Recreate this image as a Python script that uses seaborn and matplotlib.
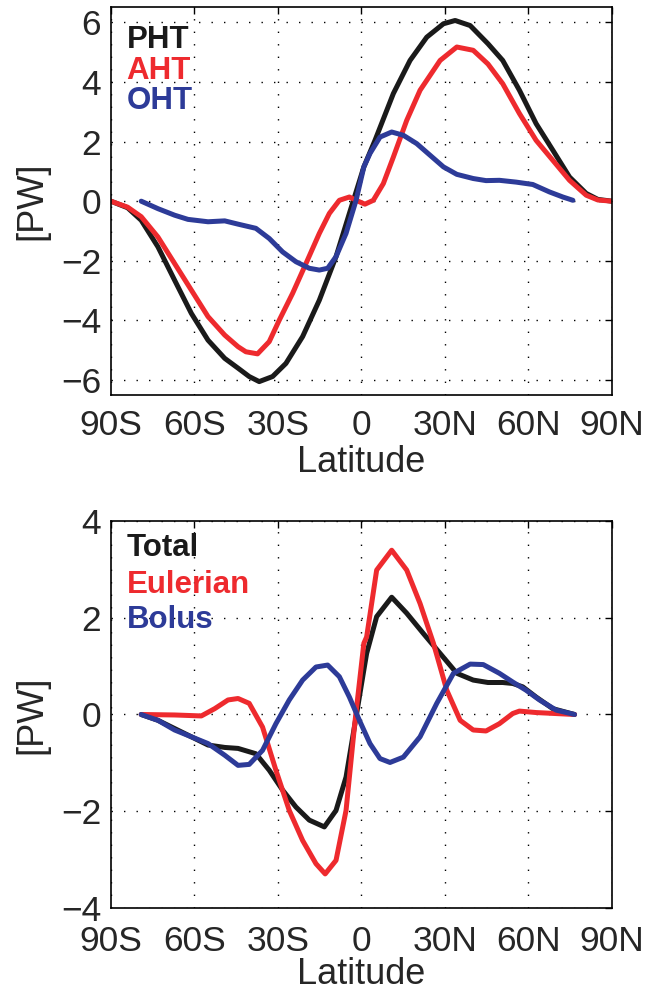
import numpy as np
import pandas as pd
import matplotlib
matplotlib.use("Agg")
import matplotlib.pyplot as plt
import seaborn as sns

# Top panel: total, atmospheric and oceanic heat transport [PW]
pht_lat = [-90, -84, -79.1, -73.1, -67.1, -61.1, -55.1, -49.1, -44.3, -40.3, -36.7, -31.9, -27.1,
           -21.1, -15.1, -9.1, -4.3, 0.9, 4.9, 11.5, 17.5, 23.5, 29.5, 33.7, 39.1, 45.5, 50.8,
           56.8, 62.8, 68.8, 74.8, 80.8, 85, 90]
pht_val = [0, -0.22, -0.64, -1.53, -2.65, -3.76, -4.66, -5.27, -5.6, -5.88, -6.05, -5.88, -5.44,
           -4.54, -3.32, -1.86, -0.41, 1.15, 2.04, 3.61, 4.72, 5.5, 5.95, 6.06, 5.89, 5.28, 4.72,
           3.72, 2.6, 1.71, 0.81, 0.26, 0.06, 0]

aht_lat = [-90, -84, -79.1, -73.1, -67.1, -61.1, -55.1, -49.1, -44.3, -41.5, -37.3, -33.1, -29.5,
           -24.7, -19.9, -15.1, -11.5, -7.9, -4.3, -0.7, 1.3, 4.3, 7.9, 11.5, 16.3, 21.1, 28.3,
           34.3, 40.2, 45.5, 50.8, 56.8, 62.8, 68.8, 74.8, 80.8, 85, 90]
aht_val = [0, -0.2, -0.52, -1.2, -2.09, -2.98, -3.87, -4.49, -4.88, -5.05, -5.12, -4.71, -3.99,
           -3.09, -2.09, -1.08, -0.41, 0.03, 0.14, -0.02, -0.1, 0.03, 0.59, 1.48, 2.71, 3.72, 4.72,
           5.17, 5.06, 4.6, 3.94, 2.94, 2.04, 1.37, 0.7, 0.2, 0.04, 0]

oht_lat = [-79.1, -73.1, -67.1, -62.3, -55.1, -49.1, -44.3, -37.9, -33.1, -28.3, -23.5, -18.7,
           -15.1, -12.1, -9.1, -5.5, -1.9, 0.9, 3.1, 6.7, 10.9, 15.1, 19.9, 24.7, 29.5, 34.3,
           40.2, 44.8, 49.6, 55.6, 61.6, 67.6, 72.4, 76]
oht_val = [0, -0.25, -0.47, -0.61, -0.69, -0.66, -0.77, -0.91, -1.25, -1.7, -2.03, -2.25,
           -2.31, -2.25, -1.86, -1.08, 0.03, 1.15, 1.6, 2.15, 2.32, 2.21, 1.93, 1.54, 1.15, 0.9,
           0.76, 0.69, 0.7, 0.64, 0.56, 0.31, 0.14, 0.03]

# Bottom panel: ocean heat transport decomposition [PW]
tot_lat = [-79.1, -73.1, -67.1, -61.1, -55.1, -49.1, -44.3, -37.9, -33.1, -28.3, -23.5, -18.7,
           -13.3, -9.1, -5.5, -2.5, 0.9, 1.9, 5.5, 10.9, 16.3, 22.3, 28.3, 34.3, 40.2, 45.5,
           50.8, 54.4, 58, 62.8, 68.8, 76.6]
tot_val = [0, -0.12, -0.29, -0.46, -0.63, -0.68, -0.7, -0.81, -1.15, -1.56, -1.91, -2.18,
           -2.32, -1.98, -1.29, -0.26, 0.92, 1.26, 2.02, 2.42, 2.09, 1.67, 1.26, 0.85, 0.71, 0.66,
           0.66, 0.64, 0.57, 0.36, 0.12, 0]

eul_lat = [-79.1, -67.1, -57.5, -52.7, -47.9, -44.3, -40.3, -35.5, -30.7, -25.9, -21.1, -16.3,
           -13, -9.1, -5.5, -2.5, 0.9, 1.9, 5.5, 10.9, 16.3, 21.1, 25.9, 30.7, 35.5, 40.2, 44.8,
           49.6, 54.4, 56.8, 62.8, 76.6]
eul_val = [0, -0.01, -0.03, 0.12, 0.3, 0.33, 0.23, -0.26, -1.15, -1.98, -2.6, -3.08,
           -3.29, -3.01, -1.98, -0.26, 1.47, 1.6, 2.98, 3.39, 2.98, 2.29, 1.47, 0.5, -0.12, -0.32,
           -0.34, -0.19, 0.02, 0.07, 0.04, 0]

bol_lat = [-79.1, -73.1, -67.1, -61.1, -55.1, -49.1, -44.3, -40.3, -35.5, -30.7, -25.9, -21.1,
           -16.3, -12.1, -7.9, -4.3, -0.7, 3.1, 6.7, 10.3, 15.1, 21.1, 27.1, 33.1, 39.1, 43.8,
           49.6, 54.4, 59.2, 64, 70, 76.6]
bol_val = [0, -0.12, -0.32, -0.46, -0.6, -0.84, -1.05, -1.03, -0.74, -0.19, 0.3, 0.71,
           0.98, 1.02, 0.78, 0.36, -0.12, -0.6, -0.91, -0.99, -0.88, -0.46, 0.23, 0.85, 1.04, 1.03,
           0.85, 0.67, 0.5, 0.3, 0.09, 0]

lat_ticks = [-90, -60, -30, 0, 30, 60, 90]
lat_labels = ["90S", "60S", "30S", "0", "30N", "60N", "90N"]

BLACK = "#1a1a1a"
RED = "#ee2a2e"
BLUE = "#2d3b98"

sns.set_style("white")
plt.rcParams["font.family"] = ["Liberation Sans", "DejaVu Sans"]

fig = plt.figure(figsize=(6.6, 9.94), dpi=100)
ax1 = fig.add_axes([0.168, 0.6026, 0.759, 0.390])
ax2 = fig.add_axes([0.168, 0.0862, 0.759, 0.390])


def draw(ax, series, names, yticks, ylim, label_pos, xpad, xlabelpad):
    for (lat, val, col) in series:
        df = pd.DataFrame({"lat": lat, "val": val})
        sns.lineplot(data=df, x="lat", y="val", color=col, lw=3.6, ax=ax,
                     estimator=None, sort=False)
    ax.set_xlim(-90, 90)
    ax.set_ylim(*ylim)
    ax.set_xticks(lat_ticks)
    ax.set_xticklabels(lat_labels)
    ax.set_yticks(yticks)
    ax.set_xlabel("Latitude", fontsize=26, labelpad=xlabelpad)
    ax.set_ylabel("[PW]", fontsize=26, labelpad=8)
    ax.tick_params(direction="in", top=True, right=True, labelsize=25.5,
                   length=5, width=1, color="black", pad=7)
    ax.tick_params(axis="x", pad=xpad)
    ax.grid(True, color="black", linestyle=(0, (1, 8)), linewidth=1)
    for s in ax.spines.values():
        s.set_color("black")
        s.set_linewidth(1.2)
    for (name, col), y in zip(names, label_pos):
        ax.text(0.031, y, name, color=col, fontsize=22.5, fontweight="bold",
                transform=ax.transAxes, va="baseline", ha="left")


draw(ax1,
     [(pht_lat, pht_val, BLACK), (aht_lat, aht_val, RED), (oht_lat, oht_val, BLUE)],
     [("PHT", BLACK), ("AHT", RED), ("OHT", BLUE)],
     [-6, -4, -2, 0, 2, 4, 6], (-6.5, 6.5), [0.894, 0.816, 0.739], 10, 2)

draw(ax2,
     [(tot_lat, tot_val, BLACK), (eul_lat, eul_val, RED), (bol_lat, bol_val, BLUE)],
     [("Total", BLACK), ("Eulerian", RED), ("Bolus", BLUE)],
     [-4, -2, 0, 2, 4], (-4, 4), [0.909, 0.813, 0.722], 12, -1)

fig.savefig("out.png", dpi=100)
